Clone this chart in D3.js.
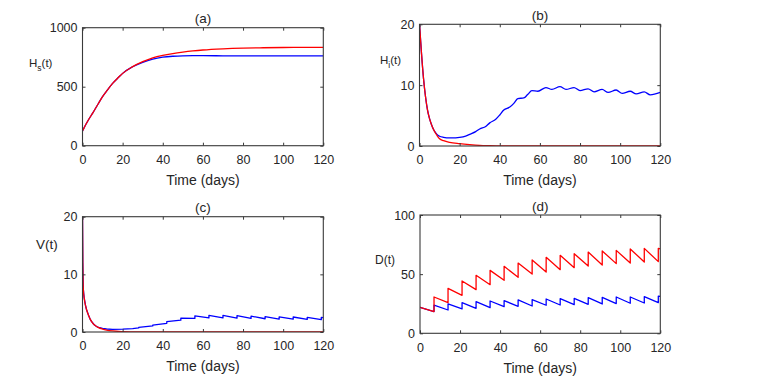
<!DOCTYPE html>
<html>
<head>
<meta charset="utf-8">
<script src="https://cdn.jsdelivr.net/npm/d3@7"></script>
<style>
  html, body { margin: 0; padding: 0; background: #fff; }
  svg { display: block; font-family: "Liberation Sans", Arial, sans-serif; }
</style>
</head>
<body>
<svg id="chart" width="771" height="382"></svg>
<script>
// ---------------- data ----------------
const xTicks = [0, 20, 40, 60, 80, 100, 120];
const hsTicks = [0, 500, 1000];
const hiTicks = [0, 10, 20];
const vTicks = [0, 10, 20];
const dTicks = [0, 50, 100];
const titles = ["(a)", "(b)", "(c)", "(d)"];
const xLabel = "Time (days)";

// (a) Hs(t)
const hsTime = [0, 1, 2, 3, 5, 8, 10, 12, 15, 18, 20, 25, 30, 35, 40, 45, 50, 55, 60, 70, 80, 90, 100, 110, 120];
const hsRed  = [124, 158, 190, 220, 274, 360, 415, 462, 528, 580, 613, 670, 712, 745, 766, 781, 793, 803, 811, 821, 827, 830, 832, 833, 834];
const hsBlue = [124, 158, 190, 220, 274, 360, 415, 462, 528, 580, 613, 669, 707, 734, 750, 758, 762, 763, 763, 762, 761, 761, 761, 761, 761];

// (b) Hi(t)
const hiRedTime = [0, 1, 2, 3, 4, 5, 6, 7, 8, 9, 10, 12, 15, 20, 25, 30, 35, 40, 50, 120];
const hiRed     = [20, 15.2, 11.1, 8.1, 5.9, 4.5, 3.5, 2.7, 2.1, 1.6, 1.2, 0.88, 0.6, 0.38, 0.22, 0.1, 0.05, 0.02, 0, 0];
const hiBlueTime = [0, 1, 2, 3, 4, 5, 6, 7, 8, 9, 10, 12, 15, 18, 20, 23, 25, 28, 30, 33, 35, 38, 40, 42, 45, 47, 49, 52, 54, 56, 59, 63, 66, 70, 73, 77, 80, 84, 87, 91, 94, 98, 101, 105, 108, 112, 115, 120];
const hiBlue     = [20, 15.2, 11.1, 8.1, 5.9, 4.5, 3.5, 2.7, 2.2, 1.8, 1.6, 1.42, 1.32, 1.35, 1.42, 1.64, 1.92, 2.36, 2.8, 3.2, 3.8, 4.4, 5.1, 5.9, 6.4, 7.0, 7.8, 7.9, 8.5, 9.1, 9.0, 9.6, 9.3, 9.75, 9.3, 9.6, 9.1, 9.4, 8.9, 9.3, 8.8, 9.2, 8.65, 9.0, 8.55, 8.9, 8.4, 8.8];

// (c) V(t)
const vRedTime = [0, 0.15, 0.4, 0.8, 1.5, 2, 3, 4, 5, 6, 7, 8, 10, 12, 15, 20, 25, 30, 40, 120];
const vRed     = [20, 12, 7.5, 6, 4.6, 3.9, 2.9, 2.1, 1.6, 1.2, 0.95, 0.75, 0.5, 0.33, 0.18, 0.07, 0.03, 0.01, 0, 0];
const vBlueTime = [0, 0.15, 0.4, 0.8, 1.5, 2, 3, 4, 5, 6, 7, 8, 10, 12, 15, 20, 25, 28, 28, 35, 35, 42, 42, 49, 49, 56, 56, 63, 63, 70, 70, 77, 77, 84, 84, 91, 91, 98, 98, 105, 105, 112, 112, 119, 119, 120];
const vBlue     = [20, 12, 7.5, 6, 4.6, 3.9, 2.9, 2.1, 1.6, 1.2, 0.95, 0.8, 0.62, 0.52, 0.47, 0.5, 0.6, 0.7, 0.8, 1.05, 1.2, 1.5, 1.8, 2.05, 2.4, 2.35, 2.8, 2.45, 2.9, 2.45, 2.9, 2.42, 2.85, 2.35, 2.75, 2.3, 2.68, 2.25, 2.62, 2.22, 2.6, 2.2, 2.55, 2.15, 2.55, 2.5];

// (d) D(t)
const dPulseDays  = [7, 14, 21, 28, 35, 42, 49, 56, 63, 70, 77, 84, 91, 98, 105, 112, 119];
const dStart      = 22;
const dRedBefore  = [18.3, 25.9, 32.1, 36.9, 41.1, 44.8, 47.3, 50.1, 51.8, 53.8, 55.5, 56.9, 57.7, 58.9, 59.4, 60.3, 60.6];
const dRedAfter   = [30.7, 38.0, 44.2, 49.0, 53.2, 56.6, 59.4, 62.0, 64.2, 65.9, 67.3, 68.7, 69.6, 70.1, 71.3, 71.8, 71.8];
const dRedEnd     = 71.3;
const dBlueBefore = [18.3, 19.7, 20.6, 21.1, 21.7, 22.5, 22.8, 23.1, 23.7, 23.9, 24.2, 24.5, 24.8, 25.1, 25.4, 25.6, 25.9];
const dBlueAfter  = [23.9, 24.8, 25.9, 26.8, 27.3, 27.6, 28.2, 28.5, 29.0, 29.3, 29.6, 30.1, 30.4, 30.7, 30.7, 31.0, 31.3];
const dBlueEnd    = 31.2;

// ---------------- helpers ----------------
const zip = (t, v) => t.map((x, i) => [x, v[i]]);
function pulseSeries(start, days, before, after, end) {
  const pts = [[0, start]];
  days.forEach((d, i) => { pts.push([d, before[i]]); pts.push([d, after[i]]); });
  pts.push([120, end]);
  return pts;
}

const RED = "#ff0000", BLUE = "#0000ff";
const svg = d3.select("#chart");

const panels = [
  { id: "a", title: titles[0], x0: 82.5, x1: 323.3, y0: 27.7, y1: 145.7, yDomain: [0, 1000], yTicks: hsTicks,
    label: { main: "H", sub: "s", x: 29, y: 67 },
    series: [ { pts: zip(hsTime, hsBlue), color: BLUE, curve: d3.curveMonotoneX },
              { pts: zip(hsTime, hsRed), color: RED, curve: d3.curveMonotoneX } ] },
  { id: "b", title: titles[1], x0: 419.5, x1: 660.3, y0: 24.3, y1: 146, yDomain: [0, 20], yTicks: hiTicks,
    label: { main: "H", sub: "i", x: 380, y: 64 },
    series: [ { pts: zip(hiBlueTime, hiBlue), color: BLUE, curve: d3.curveMonotoneX },
              { pts: zip(hiRedTime, hiRed), color: RED, curve: d3.curveMonotoneX } ] },
  { id: "c", title: titles[2], x0: 82.5, x1: 323.3, y0: 216.7, y1: 332, yDomain: [0, 20], yTicks: vTicks,
    label: { main: "V(t)", x: 36, y: 248.5, size: 13.5 },
    series: [ { pts: zip(vBlueTime, vBlue), color: BLUE, curve: d3.curveLinear },
              { pts: zip(vRedTime, vRed), color: RED, curve: d3.curveMonotoneX } ] },
  { id: "d", title: titles[3], x0: 420, x1: 660.3, y0: 215, y1: 333.3, yDomain: [0, 100], yTicks: dTicks,
    label: { main: "D(t)", x: 375, y: 264, size: 12 },
    series: [ { pts: pulseSeries(dStart, dPulseDays, dBlueBefore, dBlueAfter, dBlueEnd), color: BLUE, curve: d3.curveLinear },
              { pts: pulseSeries(dStart, dPulseDays, dRedBefore, dRedAfter, dRedEnd), color: RED, curve: d3.curveLinear } ] }
];

const AXIS = "#3a3a3a", TXT = "#262626";

panels.forEach(p => {
  const x = d3.scaleLinear().domain([0, 120]).range([p.x0, p.x1]);
  const y = d3.scaleLinear().domain(p.yDomain).range([p.y1, p.y0]);
  const g = svg.append("g");

  g.append("clipPath").attr("id", "clip-" + p.id)
    .append("rect").attr("x", p.x0).attr("y", p.y0 - 1).attr("width", p.x1 - p.x0).attr("height", p.y1 - p.y0 + 1);

  // lines
  const lines = g.append("g").attr("clip-path", `url(#clip-${p.id})`);
  p.series.forEach(s => {
    lines.append("path")
      .attr("d", d3.line().x(d => x(d[0])).y(d => y(d[1])).curve(s.curve)(s.pts))
      .attr("fill", "none").attr("stroke", s.color).attr("stroke-width", 1.3)
      .attr("stroke-linejoin", "round");
  });

  // axes
  const styleAxis = sel => {
    sel.select(".domain").remove();
    sel.selectAll(".tick line").attr("stroke", AXIS);
    sel.selectAll("text").attr("fill", TXT).attr("font-size", 12.5)
      .attr("font-family", '"Liberation Sans", Arial, sans-serif');
  };
  g.append("g").attr("transform", `translate(0,${p.y1})`)
    .call(d3.axisBottom(x).tickValues(xTicks).tickSize(-3).tickPadding(9.5).tickFormat(d3.format("d")))
    .call(styleAxis);
  g.append("g").attr("transform", `translate(0,${p.y0})`)
    .call(d3.axisTop(x).tickValues(xTicks).tickSize(-3).tickFormat(""))
    .call(styleAxis);
  g.append("g").attr("transform", `translate(${p.x0},0)`)
    .call(d3.axisLeft(y).tickValues(p.yTicks).tickSize(-3).tickPadding(5).tickFormat(d3.format("d")))
    .call(styleAxis);
  g.append("g").attr("transform", `translate(${p.x1},0)`)
    .call(d3.axisRight(y).tickValues(p.yTicks).tickSize(-3).tickFormat(""))
    .call(styleAxis);

  // frame
  g.append("rect").attr("x", p.x0).attr("y", p.y0).attr("width", p.x1 - p.x0).attr("height", p.y1 - p.y0)
    .attr("fill", "none").attr("stroke", AXIS).attr("stroke-width", 1.1);

  // title
  g.append("text").attr("x", (p.x0 + p.x1) / 2).attr("y", p.y0 - 9).attr("dy", "0.35em")
    .attr("text-anchor", "middle").attr("font-size", 13.5).attr("fill", TXT).text(p.title);

  // x label
  g.append("text").attr("x", (p.x0 + p.x1) / 2).attr("y", p.y1 + 34.5).attr("dy", "0.35em")
    .attr("text-anchor", "middle").attr("font-size", 14).attr("fill", TXT).text(xLabel);

  // y label
  const lab = g.append("text").attr("x", p.label.x).attr("y", p.label.y).attr("fill", TXT);
  if (p.label.sub) {
    lab.attr("font-size", 11.5);
    lab.append("tspan").text(p.label.main);
    lab.append("tspan").attr("font-size", 8.5).attr("dy", 3.5).text(p.label.sub);
    lab.append("tspan").attr("dy", -3.5).text("(t)");
  } else {
    lab.attr("font-size", p.label.size).text(p.label.main);
  }
});
</script>
</body>
</html>
